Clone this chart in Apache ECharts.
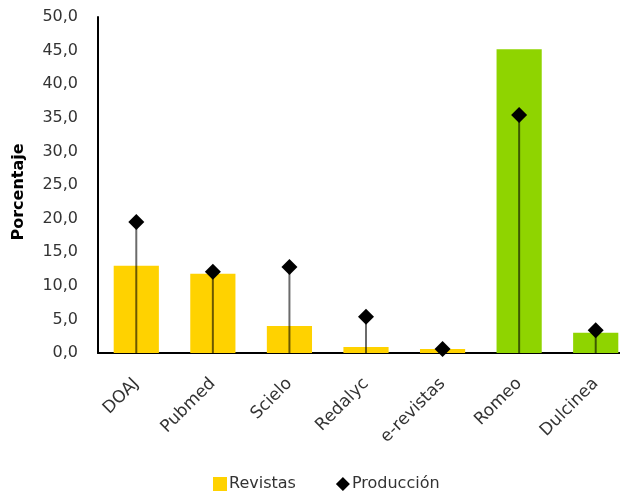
<!DOCTYPE html>
<html><head><meta charset="utf-8">
<script src="https://cdn.jsdelivr.net/npm/echarts@6/dist/echarts.min.js"></script>
<style>html,body{margin:0;padding:0;background:#fff}#c{width:620px;height:493px}</style>
</head><body><div id="c"></div>
<script>
const categories = ['DOAJ','Pubmed','Scielo','Redalyc','e-revistas','Romeo','Dulcinea'];
const revistas = [13.0, 11.8, 4.0, 0.9, 0.6, 45.2, 3.0];
const produccion = [19.5, 12.1, 12.8, 5.4, 0.6, 35.4, 3.4];
const barColors = ['#FFD200','#FFD200','#FFD200','#FFD200','#FFD200','#8FD400','#8FD400'];

const chart = echarts.init(document.getElementById('c'));
const fontFam = '"DejaVu Sans", sans-serif';
chart.setOption({
  animation: false,
  grid: {left: 98, right: -14, top: 17, bottom: 140, outerBoundsMode: 'none', containLabel: false},
  legend: {
    top: 471, left: 208, itemGap: 40, itemWidth: 14, itemHeight: 14,
    textStyle: {fontFamily: fontFam, fontSize: 16, color: '#333', padding: [0, 0, 0, -3]},
    data: [{name: 'Revistas', icon: 'rect', itemStyle: {color: '#FFD200'}},
           {name: 'Producción', icon: 'diamond', itemStyle: {color: '#000'}}]
  },
  xAxis: {
    type: 'category', data: categories,
    axisLine: {lineStyle: {color: '#000', width: 2}},
    axisTick: {show: false},
    axisLabel: {rotate: 45, fontFamily: fontFam, fontSize: 17, color: '#333', margin: 28}
  },
  yAxis: {
    type: 'value', min: 0, max: 50, interval: 5,
    name: 'Porcentaje', nameLocation: 'middle', nameGap: 71,
    nameTextStyle: {fontFamily: fontFam, fontSize: 16, fontWeight: 'bold', color: '#000', padding: [0, 14, 0, 0]},
    axisLine: {show: true, lineStyle: {color: '#000', width: 2}},
    axisTick: {show: false},
    splitLine: {show: false},
    axisLabel: {fontFamily: fontFam, fontSize: 16, color: '#333', margin: 20,
      formatter: v => v.toFixed(1).replace('.', ',')}
  },
  series: [
    {name: 'Revistas', type: 'bar', barWidth: '59%',
     data: revistas.map((v, i) => ({value: v, itemStyle: {color: barColors[i]}})),
     z: 1},
    {name: 'stems', type: 'custom', z: 3,
     data: produccion.map((v, i) => [i, v]),
     renderItem: (params, api) => {
       const p0 = api.coord([api.value(0), 0]);
       const p1 = api.coord([api.value(0), api.value(1)]);
       return {type: 'line', shape: {x1: p0[0], y1: p0[1], x2: p1[0], y2: p1[1]},
               style: {stroke: 'rgba(0,0,0,0.58)', lineWidth: 2}};
     }},
    {name: 'Producción', type: 'scatter', symbol: 'diamond', symbolSize: 16,
     itemStyle: {color: '#000', opacity: 1}, data: produccion, z: 4}
  ]
});
</script></body></html>
